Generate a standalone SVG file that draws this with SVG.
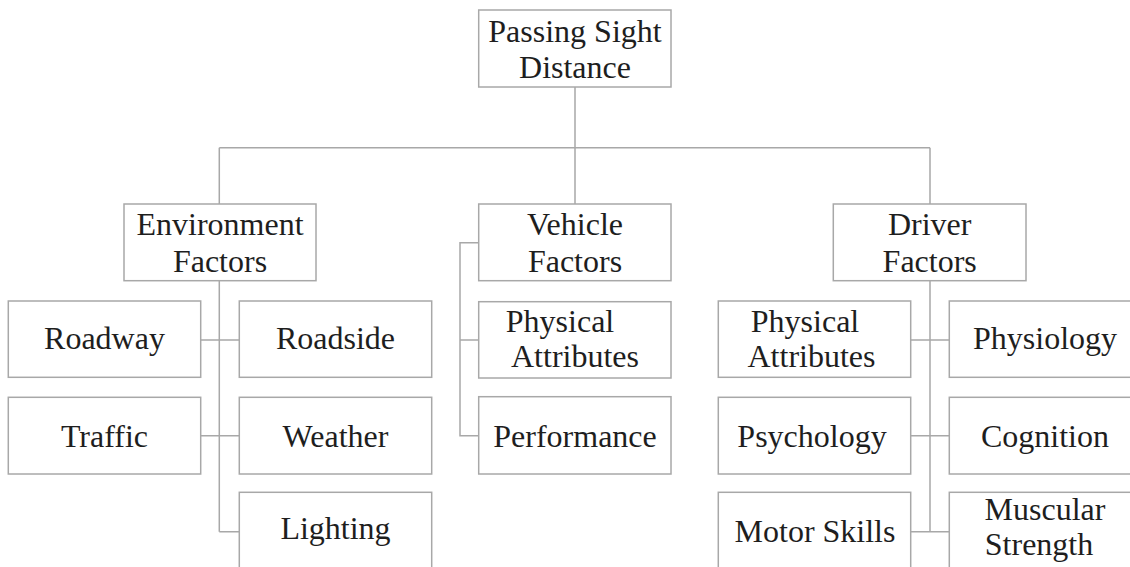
<svg xmlns="http://www.w3.org/2000/svg" width="1130" height="567" viewBox="0 0 1130 567">
<style>
.box{fill:#fff;stroke:#a8a8a8;stroke-width:1.5}
.lbl{font-family:"Liberation Serif","Times New Roman",serif;font-size:32px;fill:#1e1e1e;text-anchor:middle}
.con{stroke:#a8a8a8;stroke-width:1.5;fill:none}
</style>
<rect width="1130" height="567" fill="#fff"/>
<g id="connectors">
<path class="con" d="M575,87V204M219.3,147.7H930M219.3,147.7V204M930,147.7V204"/>
<path class="con" d="M219.3,280.7V531.7M200.7,340H239.3M200.7,435.7H239.3M219.3,531.7H239.3"/>
<path class="con" d="M478.7,242.7H460V435.7H478.7M460,340H478.7"/>
<path class="con" d="M930,280.7V531.7M910.7,340H949.3M910.7,435.7H949.3M910.7,531.7H949.3"/>
</g>
<g id="root"><rect class="box" x="478.7" y="10" width="192.3" height="77"/><text class="lbl" x="575" y="41.5">Passing Sight</text><text class="lbl" x="575" y="77.5">Distance</text></g>
<g id="env"><rect class="box" x="124" y="204" width="192" height="76.7"/><text class="lbl" x="220" y="235">Environment</text><text class="lbl" x="220" y="271.5">Factors</text></g>
<g id="veh"><rect class="box" x="478.7" y="204" width="192.3" height="76.7"/><text class="lbl" x="575" y="235">Vehicle</text><text class="lbl" x="575" y="271.5">Factors</text></g>
<g id="drv"><rect class="box" x="833.3" y="204" width="192.7" height="76.7"/><text class="lbl" x="929.7" y="235">Driver</text><text class="lbl" x="929.7" y="271.5">Factors</text></g>
<g id="roadway"><rect class="box" x="8.3" y="301" width="192.4" height="76.3"/><text class="lbl" x="104.5" y="348.5">Roadway</text></g>
<g id="roadside"><rect class="box" x="239.3" y="301" width="192.4" height="76.3"/><text class="lbl" x="335.5" y="349">Roadside</text></g>
<g id="traffic"><rect class="box" x="8.3" y="397.3" width="192.4" height="76.7"/><text class="lbl" x="104.5" y="446.7">Traffic</text></g>
<g id="weather"><rect class="box" x="239.3" y="397.3" width="192.4" height="76.7"/><text class="lbl" x="335.5" y="446.7">Weather</text></g>
<g id="lighting"><rect class="box" x="239.3" y="492.3" width="192.4" height="77"/><text class="lbl" x="335.5" y="538.5">Lighting</text></g>
<g id="vphys"><rect class="box" x="478.7" y="301.7" width="192.3" height="76.3"/><text class="lbl" x="560" y="331.7">Physical</text><text class="lbl" x="575" y="366.7">Attributes</text></g>
<g id="perf"><rect class="box" x="478.7" y="396.7" width="192.3" height="77.3"/><text class="lbl" x="575" y="446.7">Performance</text></g>
<g id="dphys"><rect class="box" x="718.3" y="301" width="192.4" height="76.3"/><text class="lbl" x="805" y="331.7">Physical</text><text class="lbl" x="811.5" y="366.7">Attributes</text></g>
<g id="physiology"><rect class="box" x="949.3" y="301" width="192.4" height="76.3"/><text class="lbl" x="1045" y="348.5">Physiology</text></g>
<g id="psychology"><rect class="box" x="718.3" y="397.3" width="192.4" height="76.7"/><text class="lbl" x="812" y="446.7">Psychology</text></g>
<g id="cognition"><rect class="box" x="949.3" y="397.3" width="192.4" height="76.7"/><text class="lbl" x="1045" y="446.7">Cognition</text></g>
<g id="motor"><rect class="box" x="718.3" y="492.3" width="192.4" height="77"/><text class="lbl" x="815" y="541.7">Motor Skills</text></g>
<g id="muscular"><rect class="box" x="949.3" y="492.3" width="192.4" height="77"/><text class="lbl" x="1045" y="520">Muscular</text><text class="lbl" x="1039" y="555">Strength</text></g>
</svg>
